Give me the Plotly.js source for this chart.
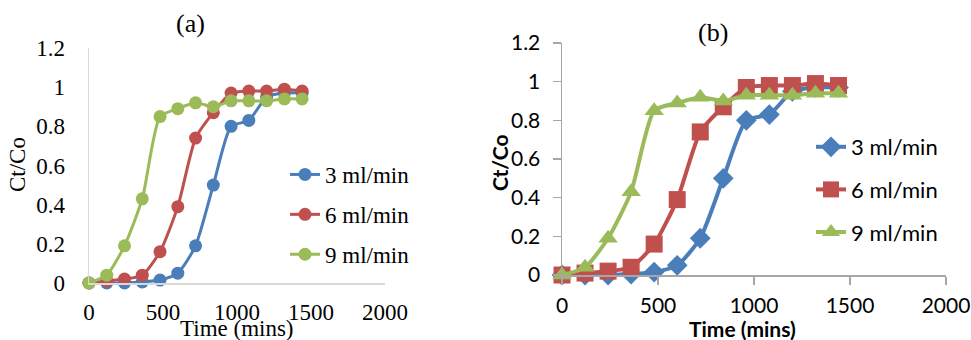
<!DOCTYPE html>
<html>
<head>
<meta charset="utf-8">
<script src="https://cdn.plot.ly/plotly-3.0.1.min.js"></script>
<style>html,body{margin:0;padding:0;background:#fff;}#chart{width:971px;height:340px;}</style>
</head>
<body>
<div id="chart"></div>
<script>
const time = [0, 120, 240, 360, 480, 600, 720, 840, 960, 1080, 1200, 1320, 1440];
const seriesNames = ["3 ml/min", "6 ml/min", "9 ml/min"];
const flow3 = [0, 0, 0, 0.005, 0.015, 0.05, 0.19, 0.50, 0.80, 0.83, 0.95, 0.97, 0.97];
const flow6 = [0, 0.01, 0.02, 0.04, 0.16, 0.39, 0.74, 0.87, 0.97, 0.98, 0.98, 0.99, 0.98];
const flow9 = [0, 0.04, 0.19, 0.43, 0.85, 0.89, 0.92, 0.90, 0.93, 0.93, 0.93, 0.94, 0.94];
const xTicks = [0, 500, 1000, 1500, 2000];
const yTicks = [0, 0.2, 0.4, 0.6, 0.8, 1, 1.2];
const yTickText = ["0", "0.2", "0.4", "0.6", "0.8", "1", "1.2"];

const colors = ["#4A7EBB", "#C0504D", "#9BBB59"];
const allY = [flow3, flow6, flow9];
const symbolsB = ["diamond", "square", "triangle-up"];
const sizesB = [16, 17, 17];

const traces = [];
allY.forEach((ys, i) => {
  traces.push({
    x: time, y: ys, name: seriesNames[i], xaxis: "x", yaxis: "y",
    type: "scatter", mode: "lines+markers", cliponaxis: false,
    line: {color: colors[i], width: 3, shape: "spline", smoothing: 0.6},
    marker: {symbol: "circle", size: 13, color: colors[i]},
    legend: "legend", legendgroup: "a" + i
  });
});
allY.forEach((ys, i) => {
  traces.push({
    x: time, y: ys, name: seriesNames[i], xaxis: "x2", yaxis: "y2",
    type: "scatter", mode: "lines+markers", cliponaxis: false,
    line: {color: colors[i], width: 4, shape: "spline", smoothing: 0.6},
    marker: {symbol: symbolsB[i], size: sizesB[i], color: colors[i]},
    legend: "legend2", legendgroup: "b" + i
  });
});

const serif = "Liberation Serif, Times New Roman, serif";
const sans = "Lato, Open Sans, sans-serif";

function ann(text, xpx, ypx, font, angle) {
  return {text: text, x: xpx/971, y: (340-ypx)/340, xref: "paper", yref: "paper",
          xanchor: "center", yanchor: "middle", showarrow: false,
          textangle: angle || 0, font: font};
}

const layout = {
  width: 971, height: 340,
  margin: {l: 0, r: 0, t: 0, b: 0},
  paper_bgcolor: "#fff", plot_bgcolor: "rgba(0,0,0,0)",
  showlegend: true,
  xaxis: {
    domain: [89/971, 385/971], anchor: "y", range: [0, 2000],
    tickvals: xTicks, showgrid: false, zeroline: false,
    showline: true, linecolor: "#d9d9d9", linewidth: 1.5,
    ticks: "outside", ticklen: 8, tickcolor: "rgba(0,0,0,0)",
    tickfont: {family: serif, size: 23, color: "#000"}
  },
  yaxis: {
    domain: [(340-283)/340, (340-48)/340], anchor: "x", range: [0, 1.2],
    tickvals: yTicks, ticktext: yTickText, showgrid: false, zeroline: false,
    showline: true, linecolor: "#d9d9d9", linewidth: 1.5,
    ticks: "outside", ticklen: 18, tickcolor: "rgba(0,0,0,0)",
    tickfont: {family: serif, size: 23, color: "#000"}
  },
  xaxis2: {
    domain: [562/971, 946/971], anchor: "y2", range: [0, 2000],
    tickvals: xTicks, showgrid: false, zeroline: false,
    showline: true, linecolor: "#a6a6a6", linewidth: 1.5,
    ticks: "outside", ticklen: 8, tickcolor: "#a6a6a6", tickwidth: 1.5,
    ticklabelstandoff: 3,
    tickfont: {family: sans, size: 21, color: "#000"}
  },
  yaxis2: {
    domain: [(340-275)/340, (340-43)/340], anchor: "x2", range: [0, 1.2],
    tickvals: yTicks, ticktext: yTickText, showgrid: false, zeroline: false,
    showline: true, linecolor: "#a6a6a6", linewidth: 1.5,
    ticks: "outside", ticklen: 8, tickcolor: "#a6a6a6", tickwidth: 1.5,
    ticklabelstandoff: 8,
    tickfont: {family: sans, size: 21, color: "#000"}
  },
  legend: {
    x: 285/971, xanchor: "left", y: (340-153)/340, yanchor: "top",
    bgcolor: "rgba(0,0,0,0)", traceorder: "grouped", tracegroupgap: 7,
    font: {family: serif, size: 23, color: "#000"}
  },
  legend2: {
    x: 811/971, xanchor: "left", y: (340-126)/340, yanchor: "top",
    bgcolor: "rgba(0,0,0,0)", traceorder: "grouped", tracegroupgap: 11,
    font: {family: sans, size: 22, color: "#000"}
  },
  annotations: [
    ann("(a)", 190, 24, {family: serif, size: 26, color: "#000"}),
    ann("Ct/Co", 17, 165, {family: serif, size: 23, color: "#000"}, -90),
    ann("Time (mins)", 237, 328, {family: serif, size: 23, color: "#000"}),
    ann("(b)", 713, 33, {family: serif, size: 26, color: "#000"}),
    ann("<b>Ct/Co</b>", 499, 163, {family: sans, size: 21, color: "#000"}, -90),
    ann("<b>Time (mins)</b>", 742, 328, {family: sans, size: 21, color: "#000"})
  ]
};

Plotly.newPlot("chart", traces, layout, {displayModeBar: false, staticPlot: true});
</script>
</body>
</html>
